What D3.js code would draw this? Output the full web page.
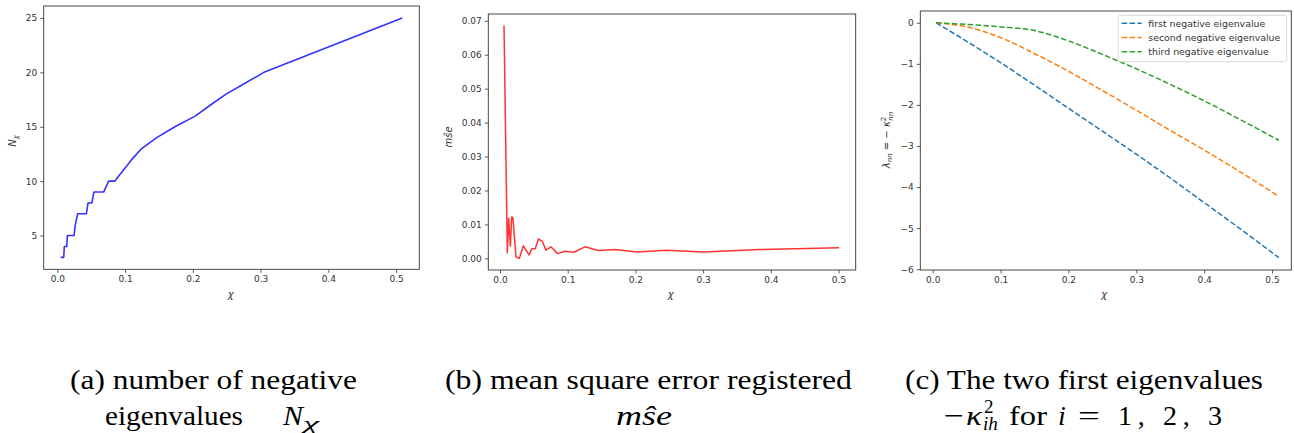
<!DOCTYPE html>
<html><head><meta charset="utf-8">
<script src="https://cdn.jsdelivr.net/npm/d3@7"></script>
<style>body{margin:0;background:#fff}svg{display:block}</style>
</head><body>
<script>
// ---------- data ----------
const chiA = [0.005, 0.0095, 0.0103, 0.0139, 0.0148, 0.0246, 0.0266, 0.030, 0.0428, 0.0453, 0.051, 0.054, 0.0684, 0.0758, 0.0846, 0.0973, 0.110, 0.1245, 0.1466, 0.1736, 0.204, 0.226, 0.249, 0.277, 0.305, 0.509];
const nA   = [3, 3, 4, 4, 5, 5, 6, 7, 7, 8, 8, 9, 9, 10, 10, 11, 12, 13, 14, 15, 16, 17, 18, 19, 20, 25];

const chiB = [0.0059, 0.0108, 0.0128, 0.0153, 0.0172, 0.019, 0.0236, 0.0286, 0.0345, 0.0428, 0.047, 0.052, 0.0566, 0.0625, 0.068, 0.0753, 0.085, 0.096, 0.109, 0.1256, 0.145, 0.170, 0.202, 0.246, 0.300, 0.384, 0.501];
const mseB = [0.0686, 0.0016, 0.0118, 0.0036, 0.0122, 0.0120, 0.0004, 0.0000, 0.0037, 0.0010, 0.0028, 0.0028, 0.0057, 0.0050, 0.0024, 0.0034, 0.0014, 0.0021, 0.0018, 0.0034, 0.0023, 0.0026, 0.0019, 0.0024, 0.0019, 0.0026, 0.0031];

const chiC = [0.005, 0.05, 0.10, 0.15, 0.20, 0.25, 0.30, 0.35, 0.40, 0.45, 0.51];
const eig1 = [0.00, -0.45, -0.97, -1.52, -2.08, -2.64, -3.20, -3.78, -4.38, -4.98, -5.72];
const eig2 = [0.00, -0.10, -0.36, -0.75, -1.18, -1.65, -2.13, -2.62, -3.10, -3.60, -4.23];
const eig3 = [0.00, -0.04, -0.10, -0.19, -0.44, -0.77, -1.12, -1.50, -1.90, -2.33, -2.86];

const xTicks  = [0.0, 0.1, 0.2, 0.3, 0.4, 0.5];
const yTicksA = [5, 10, 15, 20, 25];
const yTicksB = [0.00, 0.01, 0.02, 0.03, 0.04, 0.05, 0.06, 0.07];
const yTicksC = [0, -1, -2, -3, -4, -5, -6];
const legendLabels = ["first negative eigenvalue", "second negative eigenvalue", "third negative eigenvalue"];
const eigColors = ["#1f77b4", "#ff7f0e", "#2ca02c"];

// ---------- layout ----------
const W = 1294, H = 433;
const svg = d3.select("body").append("svg").attr("width", W).attr("height", H);
const SANS = "'DejaVu Sans', sans-serif";
const TICKFS = 9;

const panels = [
  {x0: 43.7, x1: 419.3, y0: 6, y1: 269.3, xd: [-0.0201, 0.5342], yd: [1.9, 26.1], yt: yTicksA, yf: d3.format("d")},
  {x0: 488.3, x1: 855.7, y0: 14, y1: 270, xd: [-0.0173, 0.5254], yd: [-0.00343, 0.0720], yt: yTicksB, yf: d3.format(".2f")},
  {x0: 920.3, x1: 1291.3, y0: 11, y1: 270, xd: [-0.0183, 0.5284], yd: [-6.02, 0.287], yt: yTicksC, yf: d3.format("d")}
];

panels.forEach(p => {
  p.x = d3.scaleLinear().domain(p.xd).range([p.x0, p.x1]);
  p.y = d3.scaleLinear().domain(p.yd).range([p.y1, p.y0]);
  const g = svg.append("g");
  const ax = g.append("g").attr("transform", `translate(0,${p.y1})`)
    .call(d3.axisBottom(p.x).tickValues(xTicks).tickFormat(d3.format(".1f")).tickSize(3.5).tickPadding(3));
  const ay = g.append("g").attr("transform", `translate(${p.x0},0)`)
    .call(d3.axisLeft(p.y).tickValues(p.yt).tickFormat(p.yf).tickSize(3.5).tickPadding(3));
  [ax, ay].forEach(a => {
    a.select(".domain").remove();
    a.selectAll("line").attr("stroke", "#333").attr("stroke-width", 0.8);
    a.selectAll("text").attr("fill", "#333").style("font-family", SANS).style("font-size", TICKFS + "px");
  });
  p.g = g;
});

const line = (p, xs, ys, curve) => d3.line().curve(curve || d3.curveLinear).x((d, i) => p.x(xs[i])).y(d => p.y(d))(ys);

// panel a
panels[0].g.append("path").attr("d", line(panels[0], chiA, nA))
  .attr("fill", "none").attr("stroke", "#0000ff").attr("stroke-opacity", 0.8).attr("stroke-width", 1.6).attr("stroke-linejoin", "round");
// panel b
panels[1].g.append("path").attr("d", line(panels[1], chiB, mseB))
  .attr("fill", "none").attr("stroke", "#ff0000").attr("stroke-opacity", 0.8).attr("stroke-width", 1.5).attr("stroke-linejoin", "round");
// panel c
[eig1, eig2, eig3].forEach((s, i) => {
  panels[2].g.append("path").attr("d", line(panels[2], chiC, s, d3.curveMonotoneX))
    .attr("fill", "none").attr("stroke", eigColors[i]).attr("stroke-width", 1.5)
    .attr("stroke-dasharray", "5.5,2.4");
});

// frames
panels.forEach(p => {
  svg.append("rect").attr("x", p.x0).attr("y", p.y0).attr("width", p.x1 - p.x0).attr("height", p.y1 - p.y0)
    .attr("fill", "none").attr("stroke", "#333").attr("stroke-width", 0.9);
});

// legend
const lg = svg.append("g");
lg.append("rect").attr("x", 1118.3).attr("y", 15.3).attr("width", 168.4).attr("height", 46.4).attr("rx", 2)
  .attr("fill", "#fff").attr("fill-opacity", 0.8).attr("stroke", "#d0d0d0").attr("stroke-width", 0.8);
legendLabels.forEach((t, i) => {
  const cy = 23.3 + i * 14.2;
  lg.append("line").attr("x1", 1121.7).attr("x2", 1141.7).attr("y1", cy).attr("y2", cy)
    .attr("stroke", eigColors[i]).attr("stroke-width", 1.5).attr("stroke-dasharray", "5.5,2.4");
  lg.append("text").attr("x", 1148.3).attr("y", cy).attr("dy", "0.35em")
    .style("font-family", SANS).style("font-size", "9.4px").attr("fill", "#333").text(t);
});

// axis labels
function xlabel(x) {
  svg.append("text").attr("x", x).attr("y", 298).attr("text-anchor", "middle")
    .style("font-family", SANS).style("font-style", "italic").style("font-size", "10px").attr("fill", "#333").text("χ");
}
xlabel(230.7); xlabel(670.7); xlabel(1104.3);

function ylabel(x, y) {
  return svg.append("text").attr("transform", `translate(${x},${y}) rotate(-90)`).attr("text-anchor", "middle")
    .attr("dy", "0.35em").style("font-family", SANS).style("font-size", "10px").attr("fill", "#333");
}
const yl1 = ylabel(12, 141);
yl1.append("tspan").style("font-style", "italic").text("N");
yl1.append("tspan").style("font-style", "italic").style("font-size", "7px").attr("dy", 2).text("χ");

const yl2 = ylabel(448.3, 137);
yl2.append("tspan").style("font-style", "italic").text("mŝe");

const yl3 = ylabel(886.7, 140);
yl3.append("tspan").style("font-style", "italic").text("λ");
yl3.append("tspan").style("font-style", "italic").style("font-size", "7px").attr("dy", 2).text("nn");
yl3.append("tspan").attr("dy", -2).text(" = − ");
yl3.append("tspan").style("font-style", "italic").text("κ");
yl3.append("tspan").style("font-size", "7px").attr("dy", -4).text("2");
yl3.append("tspan").style("font-style", "italic").style("font-size", "7px").attr("dx", -4).attr("dy", 6.5).text("nn");

// captions
const SERIF = "'Liberation Serif', 'Times New Roman', Times, serif";
const CFS = 28;
function ctext(x, y, txt, opts = {}) {
  const t = svg.append("text").attr("x", x).attr("y", y)
    .style("font-family", SERIF).style("font-size", (opts.fs || CFS) + "px").attr("fill", "#000").text(txt);
  if (opts.w) t.attr("textLength", opts.w).attr("lengthAdjust", opts.adj || "spacingAndGlyphs");
  if (opts.italic) t.style("font-style", "italic");
  if (opts.anchor) t.attr("text-anchor", opts.anchor);
  return t;
}
// (a)
ctext(70, 389, "(a) number of negative", {w: 287});
ctext(105, 425, "eigenvalues", {w: 138});
ctext(283, 425, "N", {italic: true, w: 20});
ctext(303, 430, "χ", {italic: true, fs: 18, w: 16});
// (b)
ctext(445, 389, "(b) mean square error registered", {w: 407});
ctext(616, 425, "mŝe", {italic: true, w: 56});
// (c)
ctext(905, 389, "(c) The two first eigenvalues", {w: 358});
ctext(944, 425, "−", {w: 20});
ctext(966, 425, "κ", {italic: true, w: 16});
ctext(984, 413, "2", {fs: 19});
ctext(983, 430, "ih", {italic: true, fs: 19});
ctext(1009, 425, "for", {w: 38});
ctext(1058, 425, "i", {italic: true});
ctext(1078, 425, "=", {w: 22});
ctext(1118, 425, "1, 2, 3", {w: 104, adj: "spacing"});
</script>
</body></html>
